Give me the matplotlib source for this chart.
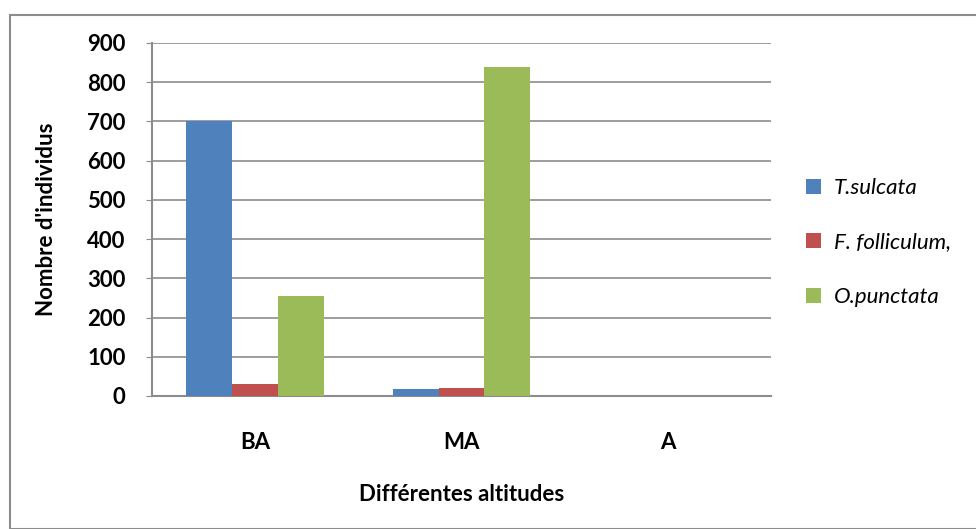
import numpy as np
import matplotlib.pyplot as plt
from matplotlib.patches import Rectangle

plt.rcParams['font.family'] = ['Lato', 'DejaVu Sans']

# altitudes et effectifs par espèce
altitudes = ['BA', 'MA', 'A']
especes = ['T.sulcata', 'F. folliculum,', 'O.punctata']
t_sulcata = [700, 17, 0]
f_folliculum = [30, 20, 0]
o_punctata = [255, 840, 0]
couleurs = ['#4f81bd', '#c0504d', '#9bbb59']
yticks = [0, 100, 200, 300, 400, 500, 600, 700, 800, 900]

fig = plt.figure(figsize=(9.76, 5.29), dpi=100)
# cadre du graphique
fig.patches.append(Rectangle((10 / 976, 0), 1, (529 - 15) / 529, transform=fig.transFigure,
                             fill=False, edgecolor='#8c8c8c', linewidth=1.5))

ax = fig.add_axes([152 / 976, (529 - 396) / 529, (771 - 152) / 976, (396 - 43) / 529])
x = np.arange(len(altitudes))
w = 0.222
for i, (serie, nom) in enumerate(zip([t_sulcata, f_folliculum, o_punctata], especes)):
    ax.bar(x + (i - 1) * w, serie, w, color=couleurs[i], label=nom, zorder=3)

ax.set_xlim(-0.5, 2.5)
ax.set_ylim(0, 900)
ax.set_yticks(yticks)
ax.set_yticklabels([str(v) for v in yticks], fontsize=16, fontweight='bold')
ax.set_xticks(x)
ax.set_xticklabels(altitudes, fontsize=16, fontweight='bold')
ax.tick_params(axis='x', length=0, pad=26)
ax.tick_params(axis='y', length=4, color='#8c8c8c', pad=15)
ax.yaxis.grid(True, color='#8c8c8c', linewidth=1.2, zorder=0)
for s in ['top', 'right']:
    ax.spines[s].set_visible(False)
for s in ['left', 'bottom']:
    ax.spines[s].set_color('#8c8c8c')
    ax.spines[s].set_linewidth(1.5)

ax.set_xlabel('Différentes altitudes', fontsize=16, fontweight='bold', labelpad=22)
ax.set_ylabel("Nombre d'individus", fontsize=16, fontweight='bold', labelpad=22)

leg = ax.legend(loc='center left', bbox_to_anchor=(1.025, 0.435), frameon=False,
                prop={'style': 'italic', 'size': 16}, handlelength=0.65, handleheight=0.65,
                labelspacing=1.55, handletextpad=0.6)

fig.savefig('out.png', dpi=100)
